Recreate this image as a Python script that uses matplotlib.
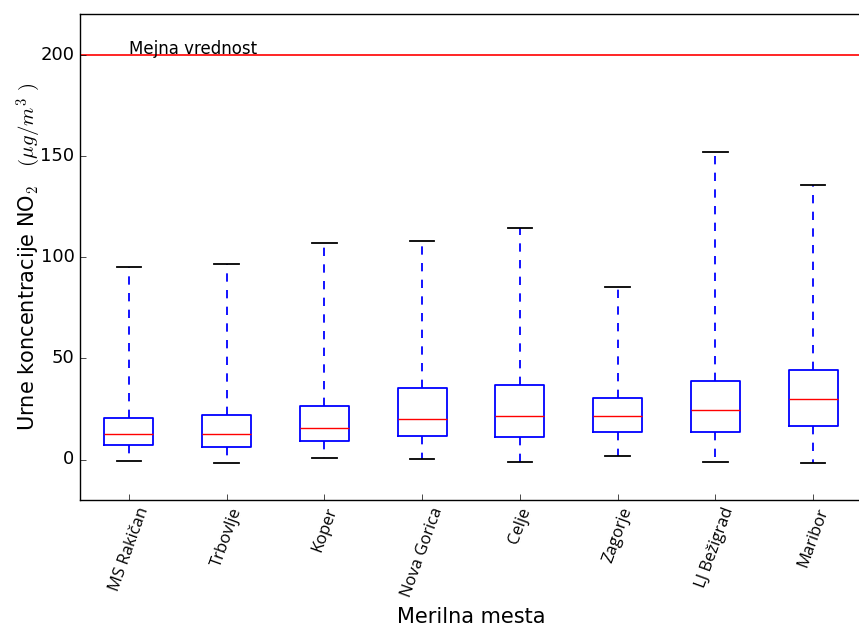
import matplotlib
matplotlib.use("Agg")
import matplotlib.pyplot as plt

plt.style.use("classic")
plt.rcParams["mathtext.fontset"] = "cm"

# hourly NO2 statistics per station (ug/m3)
stations = ["MS Rakičan", "Trbovlje", "Koper", "Nova Gorica", "Celje",
            "Zagorje", "LJ Bežigrad", "Maribor"]
whislo = [-0.5, -1.5, 0.8, 0.3, -1.0, 1.6, -1.2, -1.8]
q1 = [7.1, 6.4, 8.9, 11.7, 11.0, 13.6, 13.8, 16.3]
med = [12.5, 12.5, 15.5, 20.2, 21.5, 21.5, 24.5, 29.9]
q3 = [20.4, 22.0, 26.6, 35.5, 36.8, 30.6, 38.6, 44.4]
whishi = [95.2, 96.5, 106.7, 108.0, 114.4, 85.2, 151.9, 135.5]
limit = 200

stats = []
for name, lo, a, m, b, hi in zip(stations, whislo, q1, med, q3, whishi):
    stats.append({"label": name, "whislo": lo, "q1": a, "med": m,
                  "q3": b, "whishi": hi, "fliers": []})

fig = plt.figure(figsize=(8.59, 6.33), dpi=100, facecolor="white")
ax = fig.add_axes([80 / 859, 133 / 633, 782 / 859, 486 / 633])

ax.bxp(stats, widths=0.5, showfliers=False,
       boxprops=dict(color="blue", linewidth=1.3),
       medianprops=dict(color="red", linewidth=1),
       whiskerprops=dict(color="blue", linestyle="--", linewidth=1.3),
       capprops=dict(color="black", linewidth=1.3))

ax.axhline(limit, color="red", linewidth=1.2)
ax.text(1, limit, "Mejna vrednost", ha="left", va="baseline", fontsize=12)

ax.set_ylim(-20, 220)
ax.set_xlim(0.5, 8.5)
ax.set_yticks([0, 50, 100, 150, 200])
ax.tick_params(axis="y", labelsize=13, right=False)
ax.tick_params(axis="x", top=False)
ax.set_xticklabels(stations, rotation=70, fontsize=12, family="Open Sans")
ax.set_xlabel("Merilna mesta", fontsize=15)
ax.set_ylabel(r"Urne koncentracije NO$_2$ $\ \ (\mu g/m^3\ )$",
              fontsize=15, labelpad=-2)

fig.savefig("out.png", dpi=100, facecolor="white")
